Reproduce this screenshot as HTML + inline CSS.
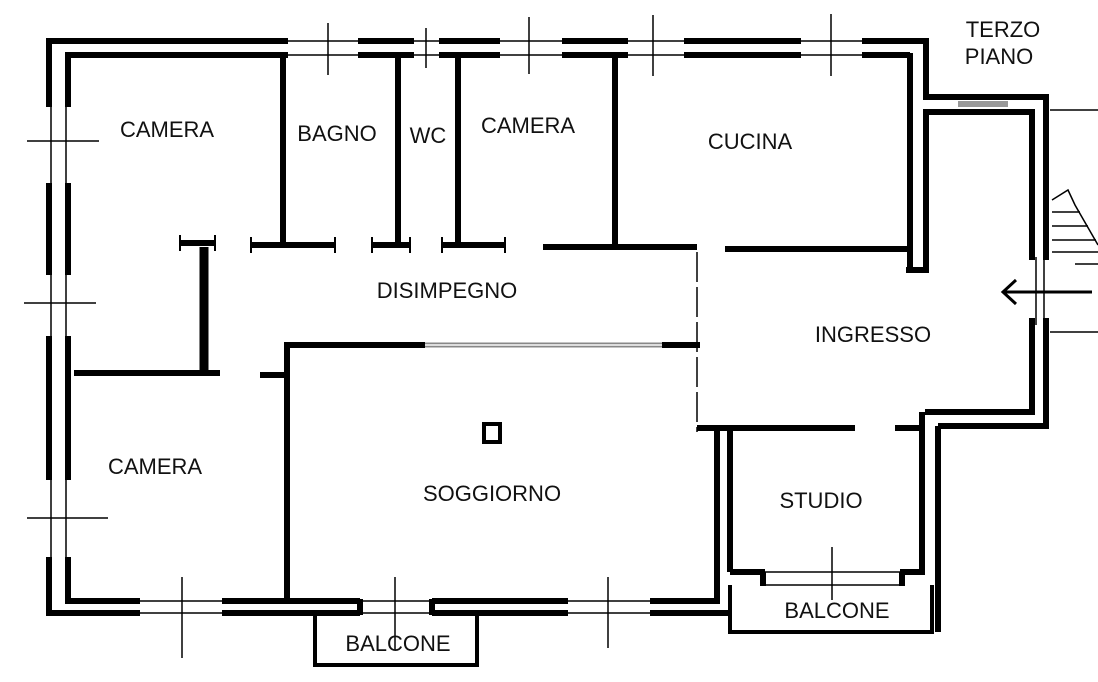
<!DOCTYPE html>
<html><head><meta charset="utf-8"><style>
html,body{margin:0;padding:0;background:#fff;}
svg{display:block;}
text{font-family:"Liberation Sans",Arial,sans-serif;font-size:22px;fill:#111;text-anchor:middle;}
</style></head><body>
<svg width="1098" height="682" viewBox="0 0 1098 682" xmlns="http://www.w3.org/2000/svg">
<g stroke="#000" fill="none" stroke-linecap="butt">
<g stroke-width="6">
<line x1="47" y1="41" x2="288" y2="41"/><line x1="67" y1="55" x2="288" y2="55"/>
<line x1="358" y1="41" x2="414" y2="41"/><line x1="358" y1="55" x2="414" y2="55"/>
<line x1="439" y1="41" x2="500" y2="41"/><line x1="439" y1="55" x2="500" y2="55"/>
<line x1="562" y1="41" x2="628" y2="41"/><line x1="562" y1="55" x2="628" y2="55"/>
<line x1="684" y1="41" x2="801" y2="41"/><line x1="684" y1="55" x2="801" y2="55"/>
<line x1="862" y1="41" x2="926" y2="41"/><line x1="862" y1="55" x2="910" y2="55"/>
</g>
<g stroke-width="1.5">
<line x1="288" y1="41" x2="358" y2="41"/><line x1="288" y1="55" x2="358" y2="55"/>
<line x1="414" y1="41" x2="439" y2="41"/><line x1="414" y1="55" x2="439" y2="55"/>
<line x1="500" y1="41" x2="562" y2="41"/><line x1="500" y1="55" x2="562" y2="55"/>
<line x1="628" y1="41" x2="684" y2="41"/><line x1="628" y1="55" x2="684" y2="55"/>
<line x1="801" y1="41" x2="862" y2="41"/><line x1="801" y1="55" x2="862" y2="55"/>
<line x1="328" y1="23" x2="328" y2="75"/><line x1="426" y1="28" x2="426" y2="68"/>
<line x1="529" y1="17" x2="529" y2="74"/><line x1="653" y1="15" x2="653" y2="76"/>
<line x1="831" y1="14" x2="831" y2="76"/>
</g>
<g stroke-width="6">
<line x1="49" y1="38" x2="49" y2="107"/><line x1="68" y1="52" x2="68" y2="107"/>
<line x1="49" y1="183" x2="49" y2="275"/><line x1="68" y1="183" x2="68" y2="275"/>
<line x1="49" y1="336" x2="49" y2="480"/><line x1="68" y1="336" x2="68" y2="480"/>
<line x1="49" y1="557" x2="49" y2="616"/><line x1="68" y1="557" x2="68" y2="602"/>
</g>
<g stroke-width="1.5">
<line x1="51" y1="107" x2="51" y2="183"/><line x1="66" y1="107" x2="66" y2="183"/>
<line x1="51" y1="275" x2="51" y2="336"/><line x1="66" y1="275" x2="66" y2="336"/>
<line x1="51" y1="480" x2="51" y2="557"/><line x1="66" y1="480" x2="66" y2="557"/>
<line x1="27" y1="141" x2="99" y2="141"/><line x1="24" y1="303" x2="96" y2="303"/>
<line x1="27" y1="518" x2="108" y2="518"/>
</g>
<g stroke-width="6">
<line x1="46" y1="613" x2="140" y2="613"/><line x1="65" y1="601" x2="140" y2="601"/>
<line x1="222" y1="613" x2="360" y2="613"/><line x1="222" y1="601" x2="360" y2="601"/>
<line x1="432" y1="613" x2="568" y2="613"/><line x1="432" y1="601" x2="568" y2="601"/>
<line x1="650" y1="613" x2="730" y2="613"/><line x1="650" y1="601" x2="720" y2="601"/>
<line x1="360" y1="599" x2="360" y2="615"/><line x1="432" y1="599" x2="432" y2="615"/>
</g>
<g stroke-width="1.5">
<line x1="140" y1="613" x2="222" y2="613"/><line x1="140" y1="601" x2="222" y2="601"/>
<line x1="360" y1="613" x2="432" y2="613"/><line x1="360" y1="601" x2="432" y2="601"/>
<line x1="568" y1="613" x2="650" y2="613"/><line x1="568" y1="601" x2="650" y2="601"/>
<line x1="182" y1="577" x2="182" y2="658"/><line x1="395" y1="577" x2="395" y2="650"/>
<line x1="608" y1="577" x2="608" y2="648"/>
</g>
<path d="M315 613 V665 H477 V613" stroke-width="4"/>
<g stroke-width="6">
<line x1="283" y1="55" x2="283" y2="245"/>
<line x1="398" y1="55" x2="398" y2="245"/>
<line x1="458" y1="55" x2="458" y2="245"/>
<line x1="615" y1="55" x2="615" y2="247"/>
<line x1="180" y1="243" x2="215" y2="243"/>
<line x1="251" y1="245" x2="335" y2="245"/>
<line x1="372" y1="245" x2="410" y2="245"/>
<line x1="442" y1="245" x2="505" y2="245"/>
<line x1="543" y1="247" x2="697" y2="247"/>
<line x1="725" y1="249" x2="910" y2="249"/>
<line x1="74" y1="373" x2="220" y2="373"/>
<line x1="260" y1="375" x2="287" y2="375"/>
</g>
<g stroke-width="2">
<line x1="180" y1="235" x2="180" y2="251"/><line x1="215" y1="235" x2="215" y2="251"/>
<line x1="251" y1="237" x2="251" y2="253"/><line x1="335" y1="237" x2="335" y2="253"/>
<line x1="372" y1="237" x2="372" y2="253"/><line x1="410" y1="237" x2="410" y2="253"/>
<line x1="442" y1="237" x2="442" y2="253"/><line x1="505" y1="237" x2="505" y2="253"/>
</g>
<line x1="204" y1="247" x2="204" y2="373" stroke-width="9"/>
<g stroke-width="6">
<line x1="287" y1="342" x2="287" y2="603"/>
<line x1="284" y1="345" x2="425" y2="345"/>
<line x1="662" y1="345" x2="700" y2="345"/>
<line x1="717" y1="428" x2="717" y2="603"/>
</g>
<line x1="425" y1="345" x2="662" y2="345" stroke="#888" stroke-width="5"/>
<line x1="425" y1="345" x2="662" y2="345" stroke="#ddd" stroke-width="2"/>
<line x1="697" y1="252" x2="697" y2="432" stroke-width="1.5" stroke-dasharray="30 5"/>
<rect x="484" y="424" width="16" height="18" stroke-width="4"/>
<g stroke-width="6">
<line x1="697" y1="428" x2="855" y2="428"/>
<line x1="895" y1="428" x2="925" y2="428"/>
<line x1="730" y1="428" x2="730" y2="572"/>
<line x1="922" y1="412" x2="922" y2="572"/>
<line x1="938" y1="426" x2="938" y2="632"/>
<line x1="730" y1="572" x2="765" y2="572"/>
<line x1="900" y1="572" x2="925" y2="572"/>
<line x1="763" y1="572" x2="763" y2="586"/><line x1="902" y1="572" x2="902" y2="586"/>
<line x1="925" y1="412" x2="1035" y2="412"/>
<line x1="938" y1="426" x2="1049" y2="426"/>
</g>
<g stroke-width="1.5">
<line x1="765" y1="572" x2="900" y2="572"/><line x1="765" y1="585" x2="900" y2="585"/>
<line x1="832" y1="547" x2="832" y2="600"/>
</g>
<path d="M730 585 V632 H932 V585" stroke-width="4"/>
<g stroke-width="6">
<line x1="910" y1="53" x2="910" y2="270"/>
<line x1="926" y1="38" x2="926" y2="99"/>
<line x1="926" y1="112" x2="926" y2="272"/>
<line x1="906" y1="270" x2="929" y2="270"/>
<line x1="923" y1="97" x2="1049" y2="97"/>
<line x1="923" y1="112" x2="1035" y2="112"/>
<line x1="1032" y1="109" x2="1032" y2="260"/>
<line x1="1046" y1="94" x2="1046" y2="260"/>
<line x1="1032" y1="318" x2="1032" y2="415"/>
<line x1="1046" y1="318" x2="1046" y2="429"/>
</g>
<line x1="958" y1="104" x2="1008" y2="104" stroke="#999" stroke-width="6"/>
<g stroke-width="1.5">
<line x1="1036" y1="257" x2="1036" y2="325"/><line x1="1044" y1="257" x2="1044" y2="330"/>
<line x1="1050" y1="110" x2="1098" y2="110"/>
<line x1="1050" y1="332" x2="1098" y2="332"/>
<path d="M1052 200 L1068 190 L1075 205 L1098 245"/>
<line x1="1052" y1="212" x2="1080" y2="212"/>
<line x1="1052" y1="226" x2="1088" y2="226"/>
<line x1="1052" y1="240" x2="1096" y2="240"/>
<line x1="1052" y1="252" x2="1098" y2="252"/>
<line x1="1075" y1="264" x2="1098" y2="264"/>
</g>
<line x1="1003" y1="292" x2="1092" y2="292" stroke-width="3"/>
<path d="M1016 280 L1003 292 L1016 304" stroke-width="3"/>
</g>
<text x="167" y="137">CAMERA</text>
<text x="337" y="141">BAGNO</text>
<text x="428" y="143">WC</text>
<text x="528" y="133">CAMERA</text>
<text x="750" y="149">CUCINA</text>
<text x="447" y="298">DISIMPEGNO</text>
<text x="873" y="342">INGRESSO</text>
<text x="155" y="474">CAMERA</text>
<text x="492" y="501">SOGGIORNO</text>
<text x="821" y="508">STUDIO</text>
<text x="398" y="651">BALCONE</text>
<text x="837" y="618">BALCONE</text>
<text x="1003" y="37">TERZO</text>
<text x="999" y="64">PIANO</text>
</svg>
</body></html>
